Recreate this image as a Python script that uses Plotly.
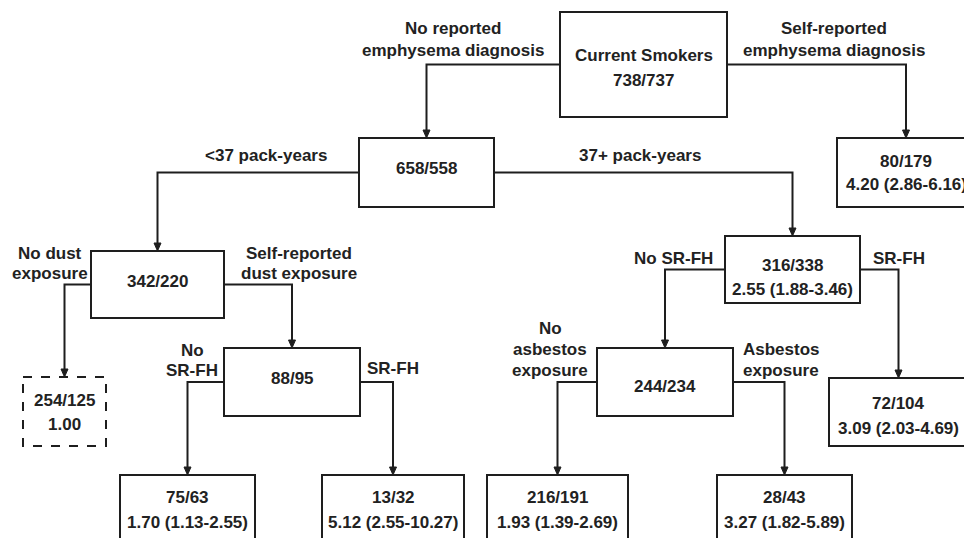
import plotly.graph_objects as go

# ---- data -------------------------------------------------------------
node_ids = ["root", "n658", "n80", "n342", "n316", "n254", "n88",
            "n244", "n72", "n75", "n13", "n216", "n28"]
node_lines = {
    "root": ["Current Smokers", "738/737"],
    "n658": ["658/558"],
    "n80":  ["80/179", "4.20 (2.86-6.16)"],
    "n342": ["342/220"],
    "n316": ["316/338", "2.55 (1.88-3.46)"],
    "n254": ["254/125", "1.00"],
    "n88":  ["88/95"],
    "n244": ["244/234"],
    "n72":  ["72/104", "3.09 (2.03-4.69)"],
    "n75":  ["75/63", "1.70 (1.13-2.55)"],
    "n13":  ["13/32", "5.12 (2.55-10.27)"],
    "n216": ["216/191", "1.93 (1.39-2.69)"],
    "n28":  ["28/43", "3.27 (1.82-5.89)"],
}
reference_node = "n254"   # dashed reference group

edge_parent = ["root", "root", "n658", "n658", "n342", "n342",
               "n316", "n316", "n88", "n88", "n244", "n244"]
edge_child = ["n658", "n80", "n342", "n316", "n254", "n88",
              "n244", "n72", "n75", "n13", "n216", "n28"]
edge_side = ["left", "right", "left", "right", "left", "right",
             "left", "right", "left", "right", "left", "right"]
edge_labels = [
    ["No reported", "emphysema diagnosis"],
    ["Self-reported", "emphysema diagnosis"],
    ["<37 pack-years"],
    ["37+ pack-years"],
    ["No dust", "exposure"],
    ["Self-reported", "dust exposure"],
    ["No SR-FH"],
    ["SR-FH"],
    ["No", "SR-FH"],
    ["SR-FH"],
    ["No", "asbestos", "exposure"],
    ["Asbestos", "exposure"],
]

# ---- layout geometry (pixel-like coordinates) ---------------------------
box = {  # x0, x1, y0, y1
    "root": (560, 727, 12, 117),
    "n658": (359, 494, 138, 207),
    "n80":  (837, 975, 138, 207),
    "n342": (91, 224, 251, 318),
    "n316": (725, 860, 236, 303),
    "n254": (23, 106, 377, 446),
    "n88":  (224, 360, 348, 416),
    "n244": (597, 733, 348, 416),
    "n72":  (829, 968, 378, 446),
    "n75":  (120, 255, 475, 570),
    "n13":  (322, 464, 475, 570),
    "n216": (487, 628, 475, 570),
    "n28":  (717, 852, 475, 570),
}
text_y = {
    "root": [55, 80], "n658": [168], "n80": [161, 184], "n342": [281],
    "n316": [265, 289], "n254": [400, 424], "n88": [378], "n244": [386],
    "n72": [403, 428], "n75": [497, 522], "n13": [497, 522],
    "n216": [497, 522], "n28": [497, 522],
}
label_pos = [  # x centre, y of each line
    (453, [28, 50]), (834, [28, 50]), (266, [155]), (640, [155]),
    (50, [253, 273]), (299, [253, 273]), (673, [258]), (899, [258]),
    (192, [350, 370]), (393, [368]), (550, [328, 349, 370]), (781, [349, 370]),
]

INK = "#1e1e1e"
LW = 2
FONT = dict(family="Liberation Sans, Arial, sans-serif", size=17, color="#222222", weight="bold")

fig = go.Figure()
fig.add_trace(go.Scatter(x=[0, 964], y=[0, 538], mode="markers",
                         marker=dict(opacity=0), hoverinfo="skip", showlegend=False))

shapes = []
annotations = []

def cx(n):
    b = box[n]
    return (b[0] + b[1]) / 2

def cy(n):
    b = box[n]
    return (b[2] + b[3]) / 2

for n in node_ids:
    x0, x1, y0, y1 = box[n]
    shapes.append(dict(type="rect", xref="x", yref="y", x0=x0, x1=x1, y0=y0, y1=y1,
                       line=dict(color=INK, width=LW,
                                 dash="dash" if n == reference_node else "solid"),
                       fillcolor="rgba(0,0,0,0)"))
    for line, ty in zip(node_lines[n], text_y[n]):
        annotations.append(dict(x=cx(n), y=ty, xref="x", yref="y", text=line,
                                showarrow=False, font=FONT, xanchor="center",
                                yanchor="middle"))

for p, c, side, lab, (lx, lys) in zip(edge_parent, edge_child, edge_side,
                                       edge_labels, label_pos):
    px0, px1, py0, py1 = box[p]
    sx = px0 if side == "left" else px1
    sy = cy(p)
    tx = cx(c)
    ty = box[c][2]
    shapes.append(dict(type="path", xref="x", yref="y",
                       path=f"M {sx},{sy} L {tx},{sy} L {tx},{ty - 6}",
                       line=dict(color=INK, width=LW)))
    shapes.append(dict(type="path", xref="x", yref="y",
                       path=f"M {tx - 3.5},{ty - 8} L {tx + 3.5},{ty - 8} L {tx},{ty} Z",
                       line=dict(color=INK, width=1), fillcolor=INK))
    for line, yy in zip(lab, lys):
        annotations.append(dict(x=lx, y=yy, xref="x", yref="y", text=line,
                                showarrow=False, font=FONT, xanchor="center",
                                yanchor="middle"))

fig.update_layout(
    width=964, height=538,
    margin=dict(l=0, r=0, t=0, b=0),
    paper_bgcolor="white", plot_bgcolor="white",
    xaxis=dict(range=[0, 964], visible=False, fixedrange=True),
    yaxis=dict(range=[538, 0], visible=False, fixedrange=True),
    shapes=shapes, annotations=annotations, showlegend=False,
)

fig.write_html("out.html", config={"displayModeBar": False},
               post_script="document.body.style.margin='0';")
